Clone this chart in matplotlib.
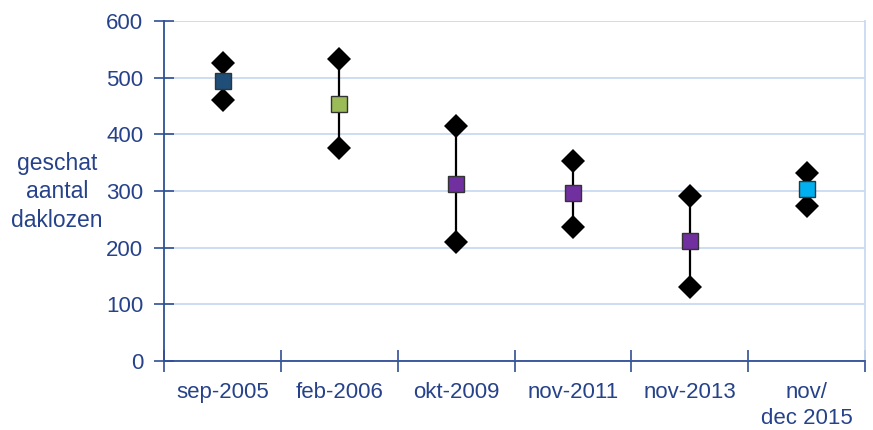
import numpy as np
import matplotlib.pyplot as plt

plt.rcParams['font.family'] = ['Liberation Sans', 'DejaVu Sans']

# 数据
categories = ['sep-2005', 'feb-2006', 'okt-2009', 'nov-2011', 'nov-2013', 'nov/\ndec 2015']
estimate = [494, 453, 312, 297, 212, 304]
upper = [526, 533, 415, 353, 292, 332]
lower = [461, 376, 210, 236, 131, 273]
colors = ['#1F4E79', '#9BBB59', '#7030A0', '#7030A0', '#7030A0', '#00B0F0']

text_col = '#26428A'
axis_col = '#2F4F95'
grid_col = '#C9DAF0'

fig = plt.figure(figsize=(8.73, 4.30), dpi=100)
ax = fig.add_axes([0.188, 0.1605, 0.803, 0.7905])

x = np.arange(len(categories)) + 0.5

for i in range(len(categories)):
    ax.plot([x[i], x[i]], [lower[i], upper[i]], color='black', lw=1.6, zorder=3)
    ax.plot([x[i], x[i]], [lower[i], upper[i]], 'D', color='black', ms=12,
            markeredgewidth=0, zorder=4)
    ax.plot(x[i], estimate[i], 's', color=colors[i], ms=11.5,
            markeredgecolor='#333333', markeredgewidth=1.0, zorder=5)

ax.set_xlim(0, len(categories))
ax.set_ylim(0, 600)
ax.set_yticks(np.arange(0, 601, 100))
ax.yaxis.grid(True, color=grid_col, lw=1.3)
ax.set_axisbelow(True)

ax.set_xticks(np.arange(0, len(categories) + 1))
ax.set_xticklabels([])
ax.set_xticks(x, minor=True)
ax.set_xticklabels(categories, minor=True, fontsize=16, color=text_col,
                   linespacing=1.3)
ax.tick_params(axis='x', which='minor', length=0, pad=15)
ax.tick_params(axis='x', which='major', direction='inout', length=16,
               color=axis_col, width=1.2)
ax.tick_params(axis='y', direction='inout', length=14, color=axis_col, width=1.2,
               labelsize=16, labelcolor=text_col, pad=8)

for s in ['left', 'bottom']:
    ax.spines[s].set_color(axis_col)
    ax.spines[s].set_linewidth(1.3)
ax.spines['top'].set_visible(False)
ax.spines['right'].set_color(grid_col)
ax.spines['right'].set_linewidth(1.3)

fig.text(57 / 873, 1 - 192 / 430, 'geschat\naantal\ndaklozen', ha='center', va='center',
         fontsize=16.5, color=text_col, linespacing=1.3)

fig.savefig('out.png', dpi=100)
